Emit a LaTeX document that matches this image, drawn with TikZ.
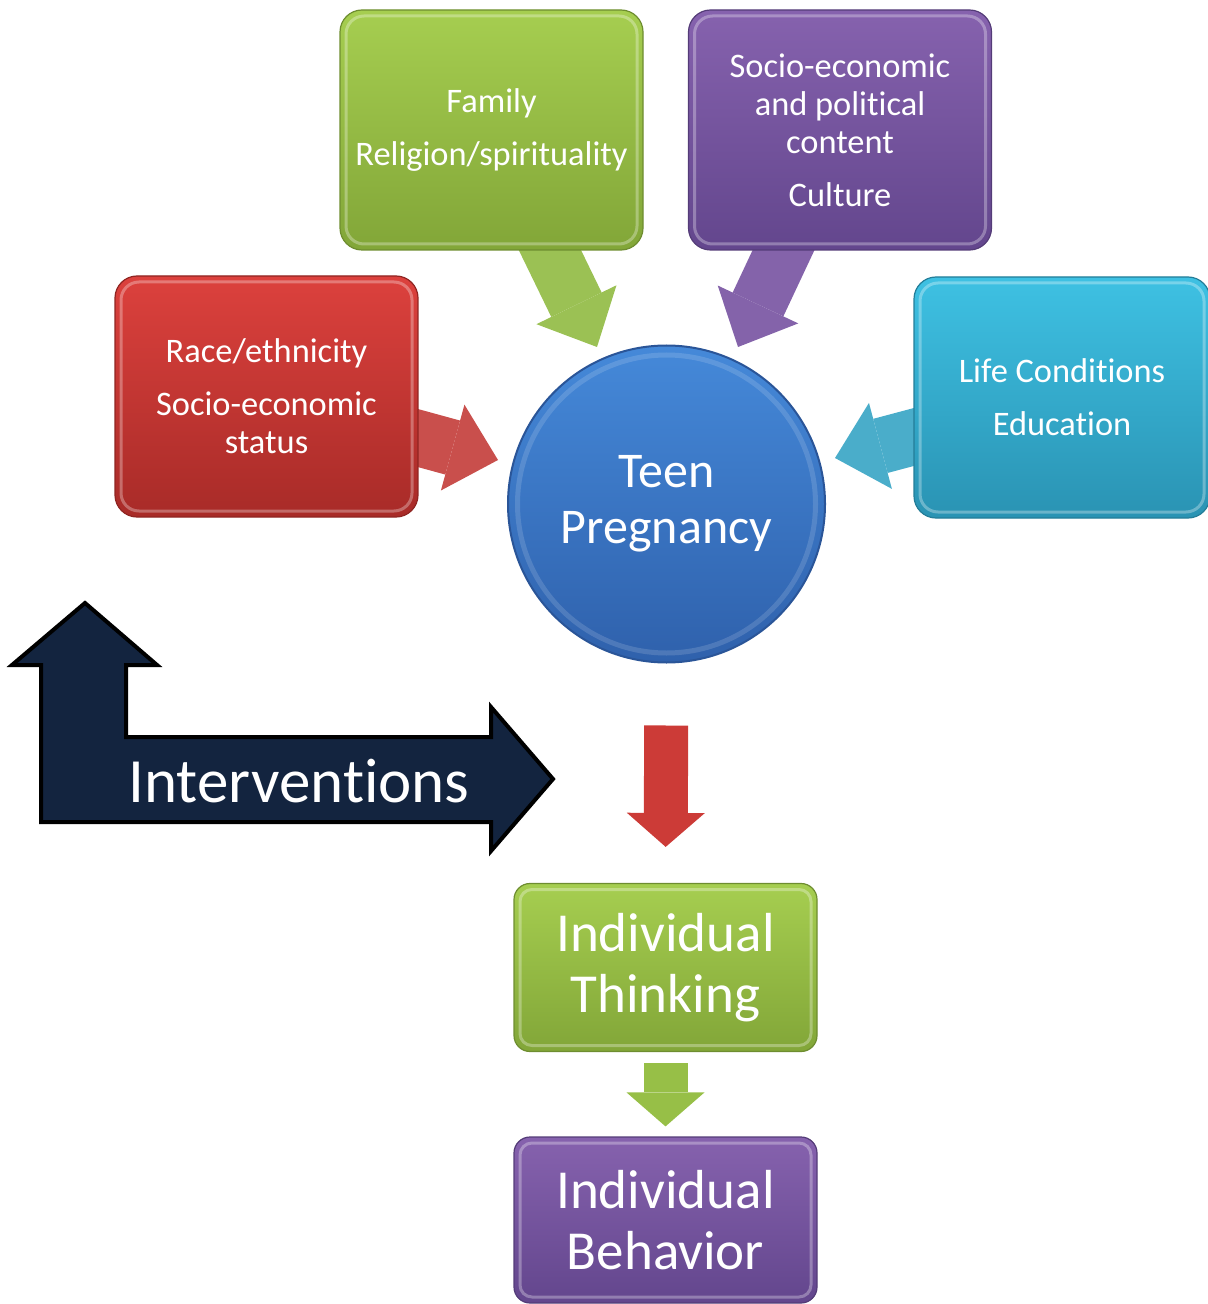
\documentclass[tikz,border=0pt]{standalone}
\usepackage{fontspec}
\setmainfont[Ligatures={NoCommon,NoContextual,NoRare}, RawFeature={-liga;-clig;-calt}]{Carlito}
\usetikzlibrary{arrows.meta, backgrounds, shapes.geometric}

\definecolor{famtop}{HTML}{A6CE50}
\definecolor{fambot}{HTML}{82A638}
\definecolor{soctop}{HTML}{8662AE}
\definecolor{socbot}{HTML}{63468D}
\definecolor{racetop}{HTML}{DC413D}
\definecolor{racebot}{HTML}{A82B28}
\definecolor{lifetop}{HTML}{3EC1E3}
\definecolor{lifebot}{HTML}{2A93B3}
\definecolor{hubtop}{HTML}{4589D9}
\definecolor{hubbot}{HTML}{2F61AC}
\definecolor{hubrim}{HTML}{2A5598}
\definecolor{greenarrow}{HTML}{9BC154}
\definecolor{purplearrow}{HTML}{8463AA}
\definecolor{redarrow}{HTML}{C94F4C}
\definecolor{cyanarrow}{HTML}{4AADCA}
\definecolor{dropred}{HTML}{CC3B37}
\definecolor{dropgreen}{HTML}{97BF47}
\definecolor{navy}{HTML}{13243F}

\begin{document}
\begin{tikzpicture}[x=0.5pt, y=-0.5pt,
    bevel/.style={path picture={\draw[white, opacity=0.3, line width=1.5pt, rounded corners=#1]
        ([shift={(3pt,-3pt)}]path picture bounding box.north west) rectangle ([shift={(-3pt,3pt)}]path picture bounding box.south east);}},
    factor/.style={rectangle, rounded corners=11pt, top color=#1top, bottom color=#1bot, draw=#1bot!85!black, line width=0.6pt, text=white, align=center, inner sep=0pt, minimum width=151.5pt, minimum height=120pt, bevel=9pt, font=\fontsize{17.2}{19}\selectfont},
    outcome/.style={rectangle, rounded corners=8pt, top color=#1top, bottom color=#1bot, draw=#1bot!85!black, line width=0.6pt, text=white, align=center, inner sep=0pt, minimum width=151.5pt, minimum height=84pt, bevel=6pt, font=\fontsize{27.5}{30.5}\selectfont},
    hub/.style={circle, top color=hubtop, bottom color=hubbot, draw=hubrim, line width=1pt, text=white, align=center, minimum size=158.5pt, inner sep=0pt, font=\fontsize{25}{28}\selectfont,
        path picture={\draw[white, opacity=0.14, line width=2.5pt] (path picture bounding box.center) circle (74.5pt);}},
    fatarrow/.style={draw=#1, line width=28pt, -{Triangle[line width=0pt, length=23.5pt, width=44.5pt]}},
    droparrow/.style={draw=#1, line width=22pt, -{Triangle[line width=0pt, length=17pt, width=39pt]}}
]
\useasboundingbox (0,0) rectangle (1207,1304);

% influences around the centre
\node[factor=fam] (fam) at (491.5,130) {Family\\[7.5pt]Religion/spirituality};
\node[factor=soc] (soc) at (840,130) {Socio-economic\\and political\\content\\[7.5pt]Culture};
\node[factor=race, minimum height=120.5pt] (race) at (266.5,396.5) {Race/ethnicity\\[7.5pt]Socio-economic\\status};
\node[factor=life, minimum width=148pt, minimum height=120.5pt] (life) at (1062,397.5) {Life Conditions\\[7.5pt]Education};

\node[hub] (teen) at (666.5,504) {Teen\\Pregnancy};

\node[outcome=fam] (think) at (665.5,967.5) {Individual\\Thinking};
\node[outcome=soc, minimum height=83pt] (behav) at (665.5,1220) {Individual\\Behavior};

% arrow tips next to the circle
\coordinate (famtip) at (597,347);
\coordinate (soctip) at (738,347);
\coordinate (racetip) at (498,460);
\coordinate (lifetip) at (835,458);

\begin{scope}[on background layer]
\draw[fatarrow=greenarrow] (fam.center) -- (famtip);
\draw[fatarrow=purplearrow] (soc.center) -- (soctip);
\draw[fatarrow=redarrow] (race.center) -- (racetip);
\draw[fatarrow=cyanarrow] (life.center) -- (lifetip);
\end{scope}

\draw[droparrow=dropred, shorten <=31pt, shorten >=18pt] (teen.south) -- (think.north);
\draw[droparrow=dropgreen, shorten <=5.5pt, shorten >=5pt] (think.south) -- (behav.north);

% bent two-headed arrow
\draw[fill=navy, draw=black, line width=2pt, miter limit=10]
    (85,603) -- (157,665) -- (126,665) -- (126,737) -- (491,737) -- (491,707)
    -- (553,779) -- (491,851) -- (491,822) -- (41,822) -- (41,665) -- (12,665) -- cycle;
\node[text=white, font=\fontsize{31.5}{34}\selectfont] (interv) at (299,781) {Interventions};

\end{tikzpicture}
\end{document}
